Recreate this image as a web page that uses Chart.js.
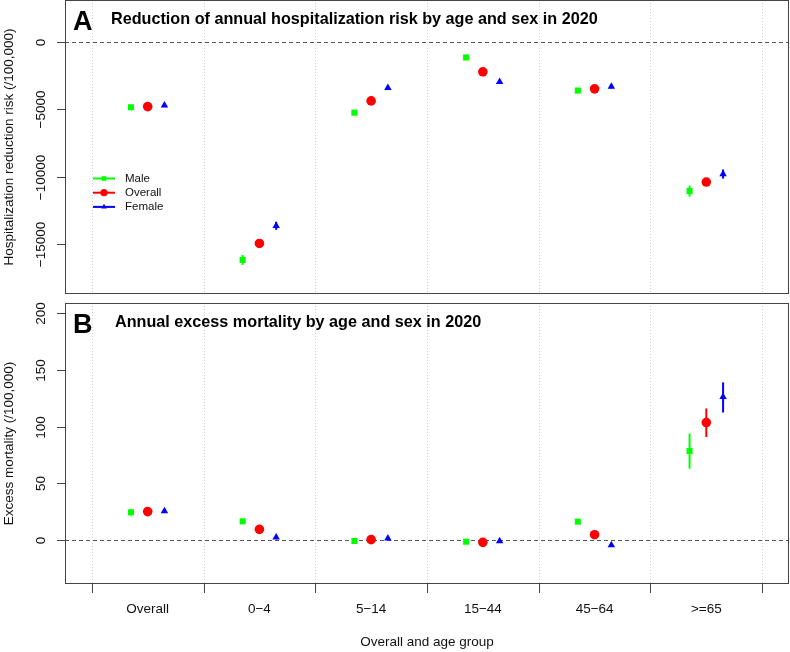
<!DOCTYPE html>
<html>
<head>
<meta charset="utf-8">
<script src="https://cdn.jsdelivr.net/npm/chart.js@4.4.1/dist/chart.umd.min.js"></script>
<style>
body { margin: 0; background: #fff; width: 790px; height: 652px; overflow: hidden; position: relative; }
canvas { position: absolute; left: 0; }
#chartA { top: 0; }
#chartB { top: 298px; }
</style>
</head>
<body>
<canvas id="chartA" width="790" height="298"></canvas>
<canvas id="chartB" width="790" height="354"></canvas>
<script>
// categories (R style minus sign)
var categories = ["Overall", "0\u22124", "5\u221214", "15\u221244", "45\u221264", ">=65"];
var seriesNames = ["Male", "Overall", "Female"];
var seriesColors = ["#00ff00", "#ff0000", "#0000ff"];

// panel A : reduction of hospitalization risk (/100,000)
var hospMale    = [-4860, -16190, -5260, -1165, -3620, -11080];
var hospOverall = [-4810, -14970, -4390, -2230, -3495, -10410];
var hospFemale  = [-4710, -13660, -3420, -2975, -3320, -9815];
var hospMaleCI    = [[-5000, -4720], [-16560, -15820], [-5400, -5120], [-1280, -1050], [-3760, -3480], [-11490, -10670]];
var hospOverallCI = [[-4900, -4720], [-15200, -14740], [-4520, -4260], [-2340, -2120], [-3600, -3390], [-10660, -10160]];
var hospFemaleCI  = [[-4850, -4570], [-13960, -13360], [-3560, -3280], [-3100, -2850], [-3460, -3180], [-10150, -9480]];
var hospTicks = [0, -5000, -10000, -15000];

// panel B : excess mortality (/100,000)
var mortMale    = [24.2, 16.2, -1.2, -1.8, 15.9, 78.4];
var mortOverall = [24.8, 9.1, 0, -2.4, 4.4, 103.5];
var mortFemale  = [25.3, 2.0, 1.2, -1.2, -4.8, 126.2];
var mortMaleCI    = [[21.3, 27.1], [14.5, 17.9], [-2.2, -0.2], [-2.6, -1.0], [14.5, 17.3], [62.8, 93.8]];
var mortOverallCI = [[23.0, 26.6], [7.5, 10.7], [-1.0, 1.0], [-3.2, -1.6], [3.2, 5.6], [90.8, 116.0]];
var mortFemaleCI  = [[23.5, 27.2], [0.5, 3.5], [0.2, 2.2], [-2.0, -0.4], [-6.0, -3.6], [112.4, 139.0]];
var mortTicks = [0, 50, 100, 150, 200];

var FONT = "'Liberation Sans', Arial, Helvetica, sans-serif";
var offsets = [-0.15, 0, 0.15];
var styles = ['rect', 'circle', 'triangle'];
var radii = [4.3, 4.8, 4.3];

function pts(vals, off) {
  return vals.map(function (v, i) { return { x: i + 1 + off, y: v }; });
}

function makeSets(lists) {
  return lists.map(function (vals, k) {
    return {
      label: seriesNames[k],
      data: pts(vals, offsets[k]),
      pointStyle: styles[k],
      pointRadius: radii[k],
      pointBackgroundColor: seriesColors[k],
      pointBorderWidth: 0,
      borderColor: seriesColors[k],
      showLine: false
    };
  });
}

function line(ctx, x1, y1, x2, y2) {
  ctx.beginPath(); ctx.moveTo(x1, y1); ctx.lineTo(x2, y2); ctx.stroke();
}

var decor = {
  id: 'decor',
  beforeDatasetsDraw: function (chart, args, o) {
    var ctx = chart.ctx, a = chart.chartArea, xs = chart.scales.x, ys = chart.scales.y;
    ctx.save();
    // dotted group separators
    ctx.strokeStyle = '#d0d0d0'; ctx.lineWidth = 1; ctx.setLineDash([1, 2]);
    for (var b = 0.5; b <= categories.length + 0.5; b++) {
      var px = Math.round(xs.getPixelForValue(b)) + 0.5;
      line(ctx, px, a.top, px, a.bottom);
    }
    // zero reference
    ctx.strokeStyle = '#555'; ctx.setLineDash([4, 3]);
    var y0 = Math.round(ys.getPixelForValue(0)) + 0.5;
    line(ctx, a.left, y0, a.right, y0);
    // confidence intervals
    ctx.setLineDash([]); ctx.lineWidth = 2;
    o.ci.forEach(function (list, k) {
      ctx.strokeStyle = seriesColors[k];
      list.forEach(function (c, i) {
        var px = xs.getPixelForValue(i + 1 + offsets[k]);
        line(ctx, px, ys.getPixelForValue(c[0]), px, ys.getPixelForValue(c[1]));
      });
    });
    ctx.restore();
  },
  afterDraw: function (chart, args, o) {
    var ctx = chart.ctx, a = chart.chartArea, xs = chart.scales.x, ys = chart.scales.y;
    ctx.save();
    // box
    ctx.strokeStyle = '#444'; ctx.lineWidth = 1;
    ctx.strokeRect(a.left + 0.5, a.top + 0.5, a.right - a.left - 1, a.bottom - a.top - 1);
    // y axis
    ctx.fillStyle = '#111';
    ctx.font = '13.5px ' + FONT;
    ctx.textAlign = 'center'; ctx.textBaseline = 'middle';
    o.yTicks.forEach(function (v) {
      var py = Math.round(ys.getPixelForValue(v)) + 0.5;
      line(ctx, a.left - 8, py, a.left, py);
      ctx.save();
      ctx.translate(41.5, py); ctx.rotate(-Math.PI / 2);
      ctx.fillText(String(v).replace('-', '\u2212'), 0, 0);
      ctx.restore();
    });
    ctx.save();
    ctx.translate(9, (a.top + a.bottom) / 2); ctx.rotate(-Math.PI / 2);
    ctx.fillText(o.yTitle, 0, 0);
    ctx.restore();
    // x axis
    if (o.xAxis) {
      for (var b = 0.5; b <= categories.length + 0.5; b++) {
        var px = Math.round(xs.getPixelForValue(b)) + 0.5;
        line(ctx, px, a.bottom, px, a.bottom + 9);
      }
      categories.forEach(function (c, i) {
        ctx.fillText(c, xs.getPixelForValue(i + 1), a.bottom + 25);
      });
      ctx.fillText('Overall and age group', (a.left + a.right) / 2, a.bottom + 58.5);
    }
    // panel letter and title
    ctx.fillStyle = '#000';
    ctx.textAlign = 'left'; ctx.textBaseline = 'alphabetic';
    ctx.font = 'bold 27px ' + FONT;
    ctx.fillText(o.letter, 73, a.top + o.letterDy);
    ctx.font = 'bold 16.2px ' + FONT;
    ctx.fillText(o.title, o.titleX, a.top + o.titleDy);
    // legend
    if (o.legend) {
      ctx.font = '11.5px ' + FONT; ctx.textBaseline = 'middle';
      seriesNames.forEach(function (n, k) {
        var ly = 178.5 + k * 14.2;
        ctx.strokeStyle = seriesColors[k]; ctx.fillStyle = seriesColors[k]; ctx.lineWidth = 2;
        line(ctx, 93, ly, 115, ly);
        Chart.helpers.drawPoint(ctx, { pointStyle: styles[k], radius: radii[k] * 0.75, rotation: 0, borderWidth: 0 }, 104, ly);
        ctx.fillStyle = '#111';
        ctx.fillText(n, 125, ly);
      });
    }
    ctx.restore();
  }
};

function baseOptions(ymin, ymax, pad, d) {
  return {
    responsive: false,
    animation: false,
    layout: { padding: pad, autoPadding: false },
    plugins: { legend: { display: false }, tooltip: { enabled: false }, decor: d },
    scales: {
      x: { type: 'linear', min: 0.26, max: 6.74, display: false },
      y: { type: 'linear', min: ymin, max: ymax, display: false }
    }
  };
}

new Chart(document.getElementById('chartA'), {
  type: 'scatter',
  data: { datasets: makeSets([hospMale, hospOverall, hospFemale]) },
  options: baseOptions(-18720, 3100, { left: 65, right: 1, top: 0, bottom: 4 }, {
    ci: [hospMaleCI, hospOverallCI, hospFemaleCI],
    yTicks: hospTicks,
    yTitle: 'Hospitalization reduction risk (/100,000)',
    letter: 'A', letterDy: 29.5,
    title: 'Reduction of annual hospitalization risk by age and sex in 2020',
    titleX: 111, titleDy: 23.5,
    legend: true, xAxis: false
  }),
  plugins: [decor]
});

new Chart(document.getElementById('chartB'), {
  type: 'scatter',
  data: { datasets: makeSets([mortMale, mortOverall, mortFemale]) },
  options: baseOptions(-39.2, 209.2, { left: 65, right: 1, top: 5, bottom: 68 }, {
    ci: [mortMaleCI, mortOverallCI, mortFemaleCI],
    yTicks: mortTicks,
    yTitle: 'Excess mortality (/100,000)',
    letter: 'B', letterDy: 29.5,
    title: 'Annual excess mortality by age and sex in 2020',
    titleX: 115, titleDy: 23.5,
    legend: false, xAxis: true
  }),
  plugins: [decor]
});
</script>
</body>
</html>
